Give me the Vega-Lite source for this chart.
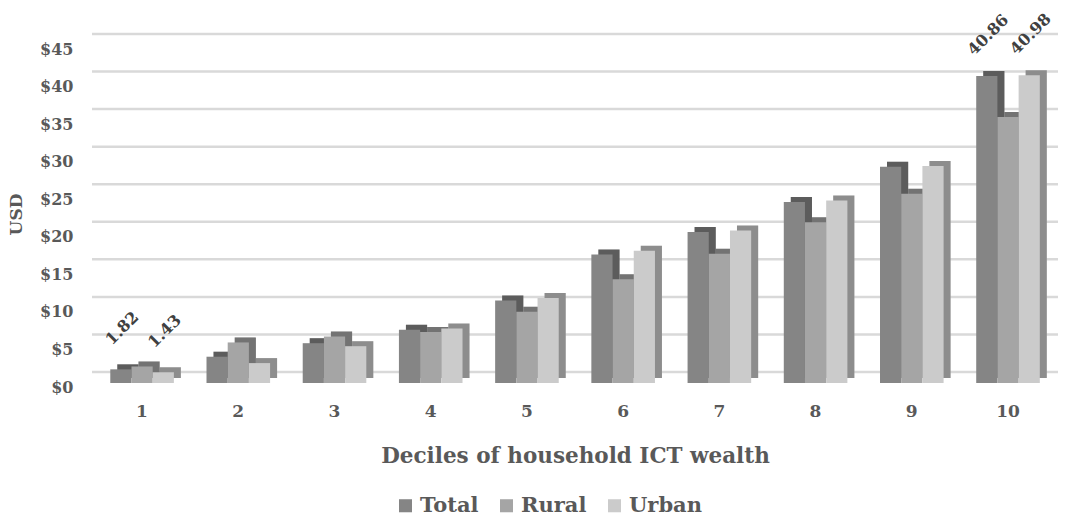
{
  "$schema": "https://vega.github.io/schema/vega-lite/v6.json",
  "width": 966,
  "height": 338,
  "autosize": {"type": "none"},
  "padding": {"left": 92, "top": 45, "right": 11, "bottom": 134},
  "background": "white",
  "config": {
    "view": {"stroke": null},
    "font": "DejaVu Serif",
    "axis": {"labelColor": "#595959", "titleColor": "#595959", "labelFontWeight": "bold", "titleFontWeight": "bold", "domain": false, "ticks": false, "grid": false, "labelOverlap": false}
  },
  "data": {
    "values": [
      {"decile": 1, "series": "Total", "value": 1.82, "label": "1.82"},
      {"decile": 1, "series": "Rural", "value": 2.2, "label": ""},
      {"decile": 1, "series": "Urban", "value": 1.43, "label": "1.43"},
      {"decile": 2, "series": "Total", "value": 3.5, "label": ""},
      {"decile": 2, "series": "Rural", "value": 5.4, "label": ""},
      {"decile": 2, "series": "Urban", "value": 2.65, "label": ""},
      {"decile": 3, "series": "Total", "value": 5.3, "label": ""},
      {"decile": 3, "series": "Rural", "value": 6.2, "label": ""},
      {"decile": 3, "series": "Urban", "value": 4.9, "label": ""},
      {"decile": 4, "series": "Total", "value": 7.1, "label": ""},
      {"decile": 4, "series": "Rural", "value": 6.8, "label": ""},
      {"decile": 4, "series": "Urban", "value": 7.25, "label": ""},
      {"decile": 5, "series": "Total", "value": 11.0, "label": ""},
      {"decile": 5, "series": "Rural", "value": 9.5, "label": ""},
      {"decile": 5, "series": "Urban", "value": 11.3, "label": ""},
      {"decile": 6, "series": "Total", "value": 17.1, "label": ""},
      {"decile": 6, "series": "Rural", "value": 13.8, "label": ""},
      {"decile": 6, "series": "Urban", "value": 17.6, "label": ""},
      {"decile": 7, "series": "Total", "value": 20.1, "label": ""},
      {"decile": 7, "series": "Rural", "value": 17.2, "label": ""},
      {"decile": 7, "series": "Urban", "value": 20.3, "label": ""},
      {"decile": 8, "series": "Total", "value": 24.1, "label": ""},
      {"decile": 8, "series": "Rural", "value": 21.4, "label": ""},
      {"decile": 8, "series": "Urban", "value": 24.3, "label": ""},
      {"decile": 9, "series": "Total", "value": 28.8, "label": ""},
      {"decile": 9, "series": "Rural", "value": 25.2, "label": ""},
      {"decile": 9, "series": "Urban", "value": 28.9, "label": ""},
      {"decile": 10, "series": "Total", "value": 40.86, "label": "40.86"},
      {"decile": 10, "series": "Rural", "value": 35.4, "label": ""},
      {"decile": 10, "series": "Urban", "value": 40.98, "label": "40.98"}
    ]
  },
  "resolve": {"scale": {"xOffset": "independent"}},
  "encoding": {
    "y": {"field": "value", "type": "quantitative", "scale": {"domain": [0, 45]},
      "axis": {"title": "USD", "values": [0, 5, 10, 15, 20, 25, 30, 35, 40, 45], "tickCount": 10, "labelOverlap": false, "labelExpr": "'$' + datum.value", "labelFontSize": 16, "labelPadding": 19, "labelOffset": 4, "titleFontSize": 17, "titlePadding": 14}}
  },
  "layer": [
    {
      "data": {"values": [{"value": 0}, {"value": 5}, {"value": 10}, {"value": 15}, {"value": 20}, {"value": 25}, {"value": 30}, {"value": 35}, {"value": 40}, {"value": 45}]},
      "mark": {"type": "rule", "color": "#d9d9d9", "strokeWidth": 2.5, "yOffset": -11},
      "encoding": {}
    },
    {
      "mark": {"type": "bar", "yOffset": -5},
      "encoding": {
        "x": {"field": "decile", "type": "ordinal", "scale": {"paddingInner": 0.34, "paddingOuter": 0.19},
          "axis": {"title": "Deciles of household ICT wealth", "labelAngle": 0, "labelFontSize": 17, "labelPadding": 20, "titleFontSize": 21.5, "titlePadding": 26}},
        "xOffset": {"field": "series", "type": "nominal", "scale": {"domain": ["Total", "Rural", "Urban"], "range": [7, 70.6], "paddingInner": 0, "paddingOuter": 0}},
        "color": {"field": "series", "type": "nominal", "scale": {"domain": ["Total", "Rural", "Urban"], "range": ["#858585", "#a5a5a5", "#cbcbcb"]},
          "legend": {"title": null, "orient": "none", "legendX": 303, "legendY": 450, "direction": "horizontal", "symbolType": "square", "symbolSize": 170, "symbolStrokeWidth": 0, "labelFontSize": 21, "labelFontWeight": "bold", "labelColor": "#595959", "columnPadding": 17, "labelOffset": 4}}
      }
    },
    {
      "mark": {"type": "bar", "yOffset": -5, "color": "black", "opacity": 0.3},
      "encoding": {
        "x": {"field": "decile", "type": "ordinal"},
        "xOffset": {"field": "series", "type": "nominal", "scale": {"domain": ["Total", "Rural", "Urban"], "range": [7, 70.6], "paddingInner": 0, "paddingOuter": 0}}
      }
    },
    {
      "mark": {"type": "bar"},
      "encoding": {
        "x": {"field": "decile", "type": "ordinal"},
        "xOffset": {"field": "series", "type": "nominal", "scale": {"domain": ["Total", "Rural", "Urban"], "range": [0, 63.6], "paddingInner": 0, "paddingOuter": 0}},
        "color": {"field": "series", "type": "nominal"}
      }
    },
    {
      "transform": [{"filter": "datum.label != ''"}],
      "mark": {"type": "text", "angle": 315, "dx": 30, "dy": -28, "fontSize": 16, "fontWeight": "bold", "color": "#404040", "align": "center", "baseline": "middle"},
      "encoding": {
        "x": {"field": "decile", "type": "ordinal"},
        "xOffset": {"field": "series", "type": "nominal", "scale": {"type": "point", "domain": ["Total", "Rural", "Urban"], "range": [10.6, 53.0], "padding": 0}},
        "text": {"field": "label", "type": "nominal"}
      }
    }
  ]
}
